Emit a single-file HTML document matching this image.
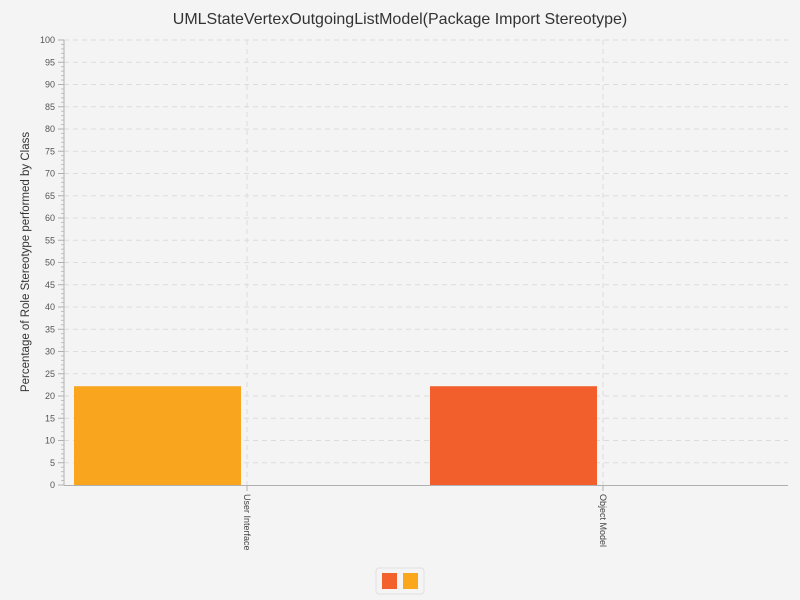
<!DOCTYPE html>
<html><head><meta charset="utf-8"><style>
html,body{margin:0;background:#f4f4f4;font-family:"Liberation Sans",sans-serif;overflow:hidden}
svg{display:block}
</style></head><body>
<svg width="800" height="600" id="c">
<rect width="800" height="600" fill="#f4f4f4"/>
<text x="400" y="24" text-anchor="middle" font-size="16" fill="#333">UMLStateVertexOutgoingListModel(Package Import Stereotype)</text>
<text transform="translate(29,262) rotate(-90)" text-anchor="middle" font-size="11.5" fill="#333">Percentage of Role Stereotype performed by Class</text>
<g id="grid"></g><g id="bars"></g><g id="axes"></g>
<g>
<rect x="376" y="568" width="48" height="26" rx="3" fill="#f4f4f4" stroke="#e0e0e0"/>
<rect x="382" y="573" width="15" height="16" fill="#f3622d"/>
<rect x="403" y="573" width="15" height="16" fill="#fba71b"/>
</g>
</svg>
<script>
const categories=["User Interface","Object Model"];
const values=[22.2,22.2];
const barColors=["#f9a51d","#f25f2c"];
const yTicks=[0,5,10,15,20,25,30,35,40,45,50,55,60,65,70,75,80,85,90,95,100];
const NS="http://www.w3.org/2000/svg";
const x0=64,x1=788,yTop=40,yBot=485;
function y(v){return yBot-(v/100)*(yBot-yTop);}
function cx(i){return 247+356*i;}
function mk(t,a,p){const e=document.createElementNS(NS,t);for(const k in a)e.setAttribute(k,a[k]);p.appendChild(e);return e;}
const g=document.getElementById('grid'),b=document.getElementById('bars'),ax=document.getElementById('axes');
yTicks.forEach(v=>{
 if(v>0){const l=mk('line',{x1:x0,x2:x1,y1:y(v),y2:y(v),stroke:'#dcdcdc','stroke-dasharray':'5,4'},g);
 
 }
 const tk=mk('line',{x1:x0-6,x2:x0,y1:y(v),y2:y(v),stroke:'#b0b0b0'},ax);
 
 
 const t=mk('text',{x:x0-9,y:y(v)+3,'text-anchor':'end','font-size':'9',fill:'#555'},ax);t.textContent=v;
 
 
});
for(let v=1;v<100;v++){if(v%5)mk('line',{x1:x0-3,x2:x0,y1:y(v),y2:y(v),stroke:'#c0c0c0'},ax);}
categories.forEach((c,i)=>{
 const l=mk('line',{x1:cx(i),x2:cx(i),y1:yTop,y2:yBot,stroke:'#dcdcdc','stroke-dasharray':'5,4'},g);
 
 
 const r=mk('rect',{x:cx(i)-173,y:y(values[i]),width:167,height:yBot-y(values[i]),fill:barColors[i]},b);
 
 
 mk('line',{x1:cx(i),x2:cx(i),y1:yBot,y2:yBot+6,stroke:'#b0b0b0'},ax);
 const t=mk('text',{transform:`translate(${cx(i)-3},${yBot+9}) rotate(90)`,'font-size':'9',fill:'#444'},ax);t.textContent=c;
 
 
});
mk('line',{x1:x0,x2:x0,y1:yTop,y2:yBot,stroke:'#b0b0b0'},ax);
mk('line',{x1:x0,x2:x1,y1:yBot+0.5,y2:yBot+0.5,stroke:'#b0b0b0'},ax);
</script>
</body></html>
